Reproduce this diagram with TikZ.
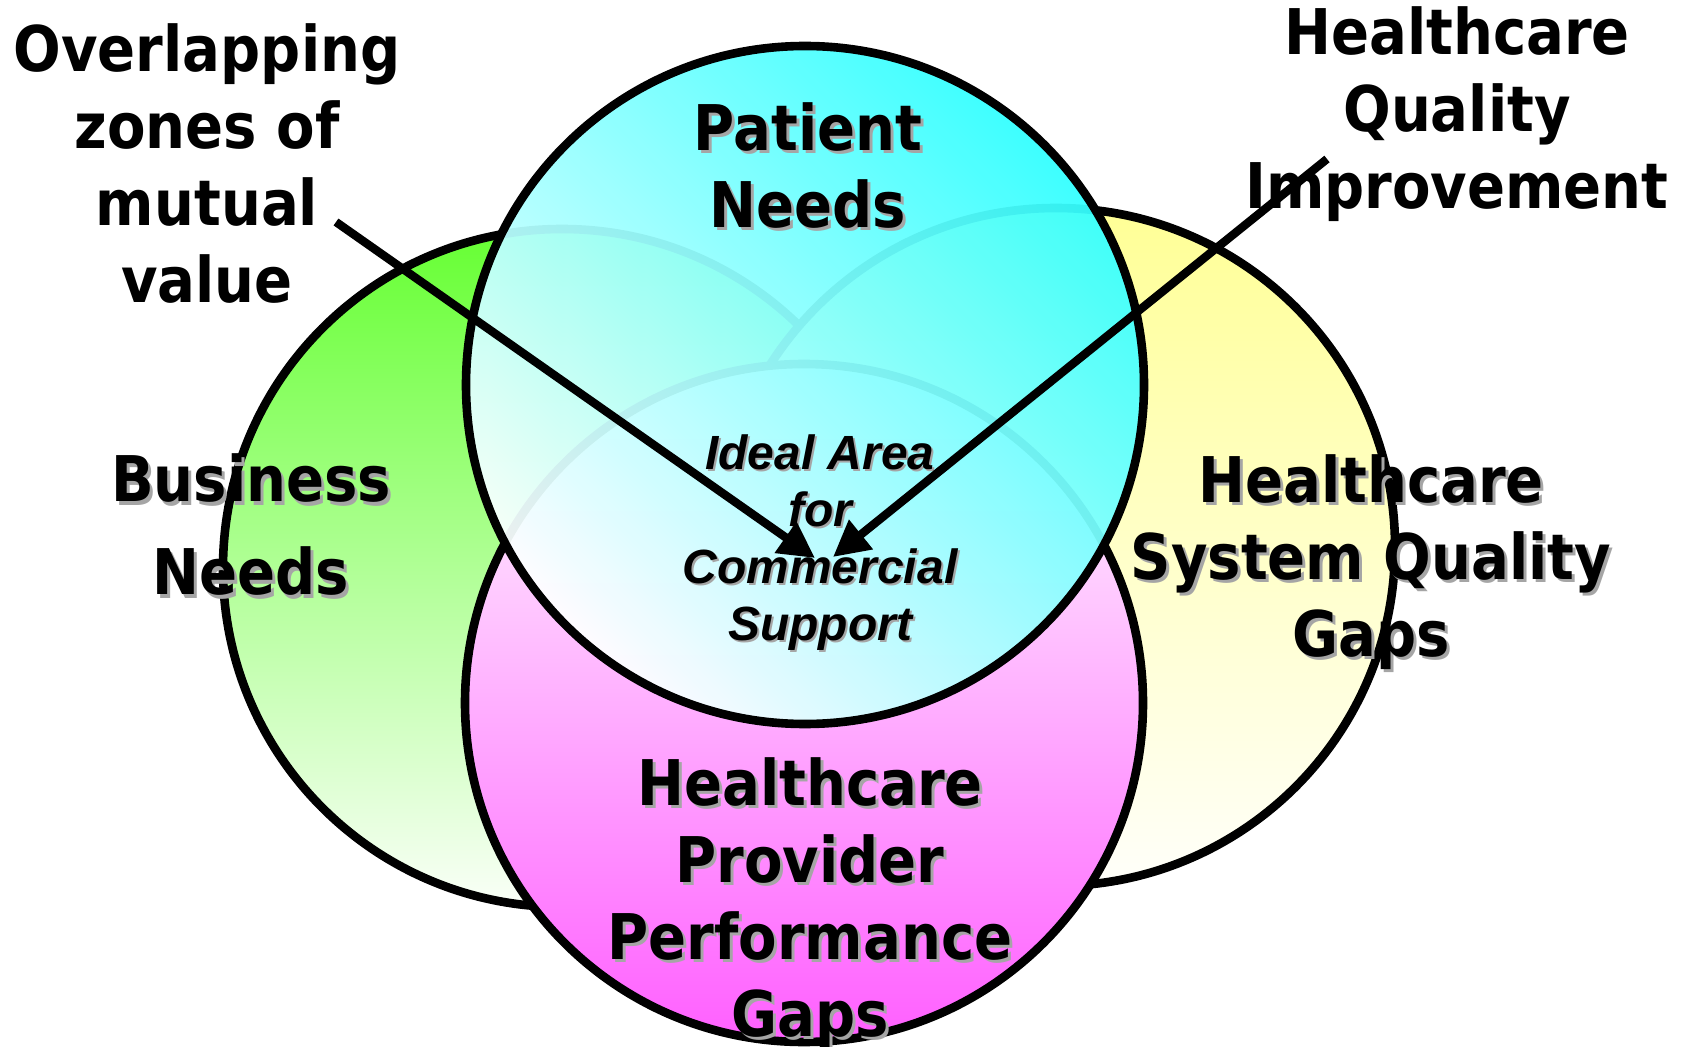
\documentclass[tikz,border=0pt]{standalone}
\usepackage{fontspec}
\newfontfamily\labfont{DejaVu Sans}[FakeStretch=0.89]
\newfontfamily\idlfont{Liberation Sans}
\usetikzlibrary{arrows.meta}
\definecolor{grnTop}{RGB}{102,255,51}
\definecolor{grnBot}{RGB}{250,255,248}
\definecolor{ylwTop}{RGB}{255,255,150}
\definecolor{ylwBot}{RGB}{255,255,250}
\definecolor{magTop}{RGB}{255,255,255}
\definecolor{magMid}{RGB}{255,205,255}
\definecolor{magBot}{RGB}{255,95,255}
\definecolor{cyTop}{RGB}{50,255,255}
\definecolor{cyMid}{RGB}{165,255,255}
\definecolor{cyBot}{RGB}{255,255,255}
\definecolor{shad}{RGB}{165,165,165}
\begin{document}
\begin{tikzpicture}[x=0.5pt,y=-0.5pt,
  ring/.style={circle, draw=black, line width=4.3pt, minimum size=339pt, inner sep=0pt},
  lab/.style={font={\labfont\bfseries\fontsize{31.5}{38.5}\selectfont}, align=center, anchor=base, inner sep=0pt},
  labshadow/.style={lab, text=shad},
  ideal/.style={font={\idlfont\bfseries\itshape\fontsize{24}{28.5}\selectfont}, align=center, anchor=base, inner sep=0pt},
  idealshadow/.style={ideal, text=shad},
  pointer/.style={line width=4.2pt, -{Triangle[length=18pt,width=18pt]}}]
\useasboundingbox[fill=white] (0,0) rectangle (1702,1047);

% circles
\node[ring, top color=grnTop, bottom color=grnBot] (cGreen) at (562,568) {};
\node[ring, top color=ylwTop, bottom color=ylwBot] (cYellow) at (1056,547) {};
\node[ring, top color=magTop, middle color=magMid, bottom color=magBot] (cMag) at (804,703) {};
\node[ring, top color=cyTop, middle color=cyMid, bottom color=cyBot, shading angle=-45, fill opacity=0.94] (cCyan) at (805,385) {};

% outside labels (anchor = baseline of last line)
\node[lab] (tOverlap) at (207,303) {Overlapping\\zones of\\mutual\\value};
\node[lab] (tHQI) at (1457,209) {Healthcare\\Quality\\Improvement};

% circle labels with shadow
\node[labshadow] (sPatient) at (811,231) {Patient\\Needs};
\node[lab] (tPatient) at (808,228) {Patient\\Needs};
\node[labshadow] (sBusiness) at (254,598) {Business\\[8pt]Needs};
\node[lab] (tBusiness) at (251,595) {Business\\[8pt]Needs};
\node[labshadow] (sSystem) at (1374,659) {Healthcare\\System Quality\\Gaps};
\node[lab] (tSystem) at (1371,656) {Healthcare\\System Quality\\Gaps};
\node[labshadow] (sProvider) at (813,1039) {Healthcare\\Provider\\Performance\\Gaps};
\node[lab] (tProvider) at (810,1036) {Healthcare\\Provider\\Performance\\Gaps};

% centre label
\node[idealshadow] (sIdeal) at (822,642) {Ideal Area\\for\\Commercial\\Support};
\node[ideal] (tIdeal) at (820,640) {Ideal Area\\for\\Commercial\\Support};

% pointers
\coordinate (aS) at (336,222);
\coordinate (aE) at (815,558);
\coordinate (bS) at (1327,159);
\coordinate (bE) at (833,557);
\draw[pointer] (aS) -- (aE);
\draw[pointer] (bS) -- (bE);
\end{tikzpicture}
\end{document}
